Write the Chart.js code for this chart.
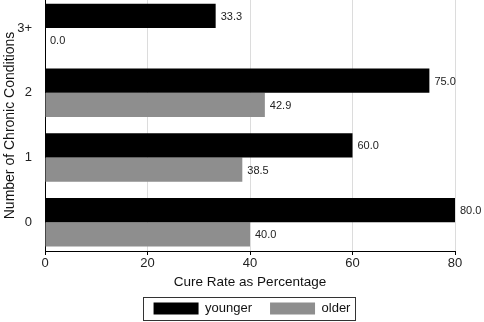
<!DOCTYPE html>
<html>
<head>
<meta charset="utf-8">
<script src="https://cdn.jsdelivr.net/npm/chart.js@4.4.1/dist/chart.umd.min.js"></script>
<style>
  html, body { margin: 0; padding: 0; background: #fff; }
  #wrap { position: relative; width: 484px; height: 322px; }
</style>
</head>
<body>
<div id="wrap"><canvas id="cureChart" width="484" height="322"></canvas></div>
<script>
// categories listed top to bottom, as in the picture
const categories = ['3+', '2', '1', '0'];
const younger = [33.3, 75.0, 60.0, 80.0];
const older = [0.0, 42.9, 38.5, 40.0];
const xTicks = [0, 20, 40, 60, 80];

const FONT = 'Liberation Sans, Arial, Helvetica, sans-serif';

// bars sit on a linear index axis so the group spacing can match the original
function toPoints(values) {
    return values.map((v, i) => ({ x: v, y: i }));
}

// value labels to the right of each bar
const barLabels = {
    id: 'barLabels',
    afterDatasetsDraw(chart) {
        const ctx = chart.ctx;
        ctx.save();
        ctx.font = '11px ' + FONT;
        ctx.fillStyle = '#222';
        ctx.textAlign = 'left';
        ctx.textBaseline = 'middle';
        chart.data.datasets.forEach((ds, di) => {
            chart.getDatasetMeta(di).data.forEach((bar, i) => {
                ctx.fillText(ds.data[i].x.toFixed(1), bar.x + 5, bar.y + 1);
            });
        });
        ctx.restore();
    }
};

// nudge legend right and draw a frame round it
const legendFrame = {
    id: 'legendFrame',
    afterLayout(chart) {
        const lg = chart.legend;
        lg.left += 2;
        lg.right += 2;
    },
    afterDraw(chart) {
        const lg = chart.legend;
        if (!lg || !lg.lineWidths) return;
        const pad = lg.options.labels.padding;
        const rowW = lg.lineWidths[0];
        const start = (lg.left + pad + lg.right - rowW) / 2;
        const end = start + rowW - pad;
        const ctx = chart.ctx;
        ctx.save();
        ctx.strokeStyle = '#333';
        ctx.lineWidth = 1;
        const x0 = Math.round(start - 11) + 0.5;
        const x1 = Math.round(end + 5) + 0.5;
        const y0 = Math.round(lg.top + pad - 5) + 0.5;
        ctx.strokeRect(x0, y0, x1 - x0, 23);
        ctx.restore();
    }
};

new Chart(document.getElementById('cureChart'), {
    type: 'bar',
    data: {
        datasets: [{
            label: 'younger',
            data: toPoints(younger),
            backgroundColor: '#000000',
            borderWidth: 0
        }, {
            label: 'older',
            data: toPoints(older),
            backgroundColor: '#8e8e8e',
            borderWidth: 0
        }]
    },
    options: {
        indexAxis: 'y',
        responsive: false,
        animation: false,
        categoryPercentage: 0.75,
        barPercentage: 1.0,
        layout: { padding: { left: 0, right: 29, top: 0, bottom: 0 } },
        scales: {
            x: {
                type: 'linear',
                min: 0,
                max: 80,
                afterBuildTicks(scale) {
                    scale.ticks = xTicks.map(v => ({ value: v }));
                },
                afterFit(scale) { scale.height = 33; },
                grid: {
                    color: ctx => ctx.tick && ctx.tick.value === 0 ? 'rgba(0,0,0,0)' : '#dcdcdc',
                    tickColor: '#000',
                    tickLength: 4,
                    lineWidth: 1
                },
                border: { display: true, color: '#000', width: 1 },
                ticks: {
                    color: '#222',
                    padding: 1,
                    font: { family: FONT, size: 13 },
                    maxRotation: 0
                },
                title: {
                    display: true,
                    text: 'Cure Rate as Percentage',
                    color: '#111',
                    font: { family: FONT, size: 13.5 },
                    padding: { top: 0, bottom: -6 }
                }
            },
            y: {
                type: 'linear',
                reverse: true,
                offset: false,
                min: -0.432,
                max: 3.443,
                afterBuildTicks(scale) {
                    scale.ticks = categories.map((c, i) => ({ value: i }));
                },
                afterFit(scale) {
                    scale.width = 45;
                    scale.paddingTop = 0;
                    scale.paddingBottom = 0;
                },
                grid: { display: false, offset: false },
                border: { display: true, color: '#000', width: 1 },
                ticks: {
                    color: '#222',
                    padding: 5,
                    font: { family: FONT, size: 13 },
                    callback: v => categories[v] !== undefined ? categories[v] : ''
                },
                title: {
                    display: true,
                    text: 'Number of Chronic Conditions',
                    color: '#111',
                    font: { family: FONT, size: 14 },
                    padding: { top: 2, bottom: 0 }
                }
            }
        },
        plugins: {
            legend: {
                position: 'bottom',
                fullSize: false,
                maxHeight: 38,
                labels: {
                    boxWidth: 45,
                    boxHeight: 12,
                    padding: 18,
                    color: '#111',
                    font: { family: FONT, size: 13 }
                }
            },
            tooltip: { enabled: false }
        }
    },
    plugins: [barLabels, legendFrame]
});
</script>
</body>
</html>
